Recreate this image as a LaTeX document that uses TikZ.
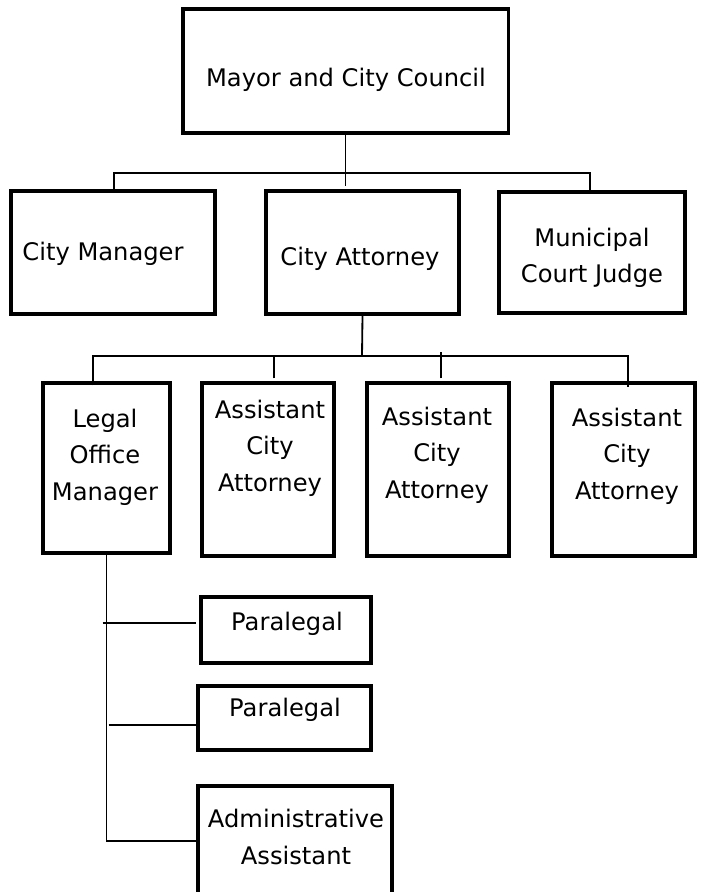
\documentclass[tikz,border=0pt]{standalone}
\usepackage{fontspec}
\setmainfont{DejaVu Sans}
\usetikzlibrary{calc}
\begin{document}
\begin{tikzpicture}[x=0.025cm, y=-0.025cm,
    box/.style={draw, line width=2.2pt, inner sep=0pt},
    label text/.style={align=center, inner sep=0pt, font=\fontsize{17.2}{26}\selectfont},
    link/.style={line width=1.3pt}]
    \useasboundingbox (0,0) rectangle (700,892);
    \node[box, minimum width=8.125cm, minimum height=3.1cm] (mayor) at (345.5,71) {};
    \node[box, minimum width=5.1cm, minimum height=3.075cm] (manager) at (113,252.5) {};
    \node[box, minimum width=4.825cm, minimum height=3.075cm] (attorney) at (362.5,252.5) {};
    \node[box, minimum width=4.65cm, minimum height=3.025cm] (judge) at (592,252.5) {};
    \node[box, minimum width=3.175cm, minimum height=4.25cm] (legal) at (106.5,468) {};
    \node[box, minimum width=3.3cm, minimum height=4.325cm] (asst1) at (268,469.5) {};
    \node[box, minimum width=3.55cm, minimum height=4.325cm] (asst2) at (438,469.5) {};
    \node[box, minimum width=3.575cm, minimum height=4.325cm] (asst3) at (623.5,469.5) {};
    \node[box, minimum width=4.25cm, minimum height=1.65cm] (para1) at (286,630) {};
    \node[box, minimum width=4.325cm, minimum height=1.6cm] (para2) at (284.5,718) {};
    \node[box, minimum width=4.85cm, minimum height=3cm] (admin) at (295,846) {};
    \node[label text] (mayor-t) at (346,80) {Mayor and City Council};
    \node[label text] (manager-t) at (103,254) {City Manager};
    \node[label text] (attorney-t) at (360,259) {City Attorney};
    \node[label text] (judge-t) at (592,258) {Municipal\\Court Judge};
    \node[label text] (legal-t) at (105,457) {Legal\\Office\\Manager};
    \node[label text] (asst1-t) at (270,448) {Assistant\\City\\Attorney};
    \node[label text] (asst2-t) at (437,455) {Assistant\\City\\Attorney};
    \node[label text] (asst3-t) at (627,456) {Assistant\\City\\Attorney};
    \node[label text] (para1-t) at (287,624) {Paralegal};
    \node[label text] (para2-t) at (285,710) {Paralegal};
    \node[label text] (admin-t) at (296,837) {Administrative\\Assistant};
    \coordinate (bus1) at (346,173);
    \coordinate (bus2) at (362,356);
    \draw[link] (mayor.south) -- ($(mayor.south |- attorney.north)+(0,-3)$);
    \draw[link] ($(manager.north)+(1,0)$) |- (bus1) -| ($(judge.north)+(-2,2)$);
    \draw[link] (attorney.south) -- (bus2);
    \draw[link] ($(legal.north)+(-13.5,4)$) |- (bus2) -| ($(asst3.north)+(4.5,6)$);
    \draw[link] ($(asst1.north)+(6,-3)$) -- ($(asst1.north)+(6,-26)$);
    \draw[link] ($(asst2.north)+(3,-3)$) -- ($(asst2.north)+(3,-29)$);
    \draw[link] (legal.south) |- ($(admin.west)+(0,-5)$);
    \draw[link] ($(legal.south |- para1.west)+(-4,-7)$) -- ($(para1.west)+(-3,-7)$);
    \draw[link] ($(legal.south |- para2.west)+(2,7)$) -- ($(para2.west)+(0,7)$);
\end{tikzpicture}
\end{document}
